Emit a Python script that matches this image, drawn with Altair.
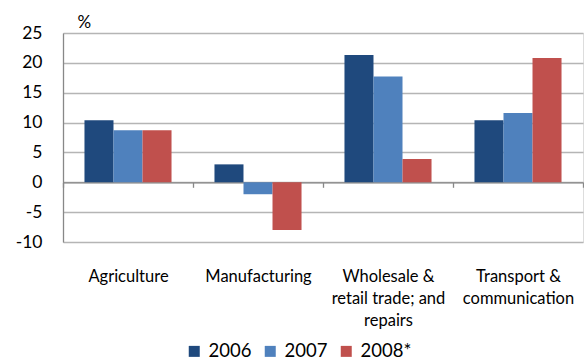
import altair as alt
import pandas as pd

categories = ["Agriculture", "Manufacturing", "Wholesale & retail trade; and repairs", "Transport & communication"]
label_lines = [["Agriculture"], ["Manufacturing"], ["Wholesale &", "retail trade; and", "repairs"], ["Transport &", "communication"]]
series = ["2006", "2007", "2008*"]
v2006 = [10.4, 3.0, 21.3, 10.4]
v2007 = [8.7, -2.0, 17.7, 11.6]
v2008 = [8.7, -8.0, 3.9, 20.8]
colors = ["#1F497D", "#4F81BD", "#C0504D"]
y_ticks = [-10, -5, 0, 5, 10, 15, 20, 25]

rows = []
for s, vals in zip(series, [v2006, v2007, v2008]):
    for c, v in zip(categories, vals):
        rows.append({"category": c, "series": s, "value": v})
df = pd.DataFrame(rows)

# label expression mapping category -> lines
parts = []
for c, lines in zip(categories, label_lines):
    arr = "[" + ",".join("'" + l + "'" for l in lines) + "]"
    parts.append(f"datum.value == '{c}' ? {arr}")
label_expr = " : ".join(parts) + " : datum.label"

FONT = "Lato"

chart = alt.Chart(df).mark_bar().encode(
    x=alt.X("category:N", sort=categories,
            scale=alt.Scale(paddingInner=0, paddingOuter=0),
            axis=alt.Axis(title=None, labelAngle=0, offset=-59.7, tickBand="extent",
                          tickSize=5, tickColor="#888888", domainColor="#888888",
                          domainWidth=1.3, tickWidth=1.3,
                          labelPadding=81, labelExpr=label_expr, labelLineHeight=22,
                          labelFontSize=16.5, labelFont=FONT, labelColor="#000000")),
    xOffset=alt.XOffset("series:N", sort=series,
                        scale=alt.Scale(paddingInner=0, paddingOuter=0.74)),
    y=alt.Y("value:Q", scale=alt.Scale(domain=[-10, 25], nice=False, zero=False),
            axis=alt.Axis(values=y_ticks, title="%", titleAngle=0, titleAlign="left",
                          titleBaseline="alphabetic", titleX=14, titleY=-5.5,
                          titleFontSize=17, titleFontWeight="normal", titleFont=FONT,
                          titleColor="#000000",
                          grid=True, gridColor="#B5B5B5", gridWidth=1.3,
                          domainColor="#888888", domainWidth=1.3, ticks=False,
                          labelExpr="datum.value < 0 ? '-' + abs(datum.value) : datum.label",
                          labelPadding=21, labelFontSize=17.5, labelFont=FONT,
                          labelColor="#000000")),
    color=alt.Color("series:N", sort=series,
                    scale=alt.Scale(domain=series, range=colors),
                    legend=alt.Legend(title=None, orient="none", direction="horizontal",
                                      legendX=122, legendY=309, symbolType="square",
                                      symbolSize=121, symbolStrokeWidth=0,
                                      labelFontSize=18.5, labelFont=FONT, labelColor="#000000",
                                      labelOffset=5, columnPadding=9, padding=0)),
).properties(
    width=520, height=209,
    autosize=alt.AutoSizeParams(type="none"),
    padding={"left": 63, "top": 33, "right": 1, "bottom": 119},
).configure_view(stroke=None).configure(background="white")

chart.save("out.html", embed_options={"renderer": "svg", "actions": False})
